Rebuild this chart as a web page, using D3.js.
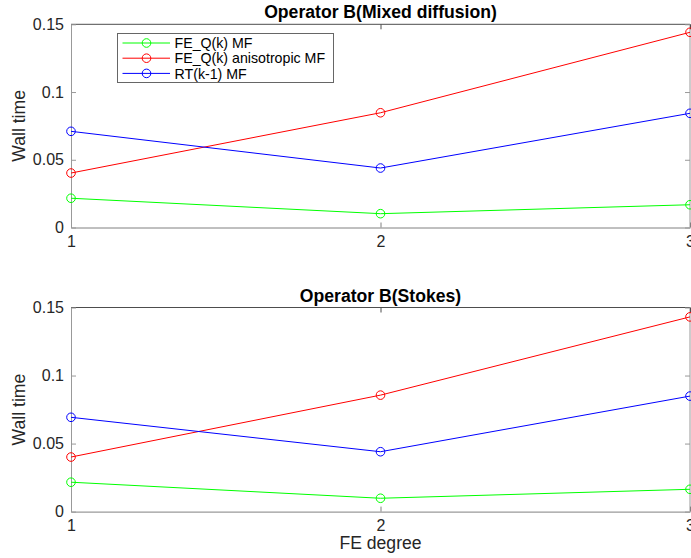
<!DOCTYPE html>
<html>
<head>
<meta charset="utf-8">
<script src="https://cdn.jsdelivr.net/npm/d3@7"></script>
<style>
  html, body { margin: 0; padding: 0; background: #fff; overflow: hidden; }
  text { font-family: "Liberation Sans", Arial, Helvetica, sans-serif; }
</style>
</head>
<body>
<svg id="chart" width="691" height="558"></svg>
<script>
// ---- data ----
const feDegrees = [1, 2, 3];
const yTicks = [0, 0.05, 0.1, 0.15];
const yTickLabels = ["0", "0.05", "0.1", "0.15"];
const seriesNames = ["FE_Q(k) MF", "FE_Q(k) anisotropic MF", "RT(k-1) MF"];
const seriesColors = ["#00ff00", "#ff0000", "#0000ff"];
const mixedFEQ = [0.0216, 0.0102, 0.0168];
const mixedFEQAniso = [0.0402, 0.0847, 0.1441];
const mixedRT = [0.0710, 0.0439, 0.0843];
const stokesFEQ = [0.0216, 0.0098, 0.0164];
const stokesFEQAniso = [0.0401, 0.0856, 0.1431];
const stokesRT = [0.0693, 0.0440, 0.0849];
const panelTitles = ["Operator B(Mixed diffusion)", "Operator B(Stokes)"];

const panels = [
  { title: panelTitles[0], series: [mixedFEQ, mixedFEQAniso, mixedRT], top: 24.3, bottom: 227.5, legend: true, xlabel: false },
  { title: panelTitles[1], series: [stokesFEQ, stokesFEQAniso, stokesRT], top: 307.5, bottom: 511.6, legend: false, xlabel: true }
];

const svg = d3.select("#chart");
const left = 71, right = 690;
const tickLen = 5;
const textColor = "#262626";

panels.forEach(p => {
  const x = d3.scaleLinear().domain([1, 3]).range([left, right]);
  const y = d3.scaleLinear().domain([0, 0.15]).range([p.bottom, p.top]);
  const g = svg.append("g");

  // box
  g.append("line").attr("x1", left).attr("x2", right).attr("y1", p.top).attr("y2", p.top)
    .attr("stroke", "#4d4d4d").attr("stroke-width", 1);
  g.append("line").attr("x1", right).attr("x2", right).attr("y1", p.top).attr("y2", p.bottom)
    .attr("stroke", "#999").attr("stroke-width", 1);

  // bottom axis (ticks inward)
  const xAxis = d3.axisBottom(x).tickValues(feDegrees).tickFormat(d3.format("d"))
    .tickSizeInner(-tickLen).tickSizeOuter(0).tickPadding(8);
  const gx = g.append("g").attr("transform", `translate(0,${p.bottom})`).call(xAxis);
  gx.select(".domain").attr("stroke", "#808080");
  gx.selectAll(".tick line").attr("stroke", "#808080");
  gx.selectAll(".tick text").attr("fill", textColor).style("font-size", "16px")
    .attr("font-family", "Liberation Sans, Arial, sans-serif");

  // top ticks
  const xTop = d3.axisTop(x).tickValues(feDegrees).tickFormat("").tickSizeInner(-tickLen).tickSizeOuter(0);
  const gxt = g.append("g").attr("transform", `translate(0,${p.top})`).call(xTop);
  gxt.select(".domain").remove();
  gxt.selectAll(".tick line").attr("stroke", "#4d4d4d");

  // left axis
  const yAxis = d3.axisLeft(y).tickValues(yTicks).tickFormat((d, i) => yTickLabels[i])
    .tickSizeInner(-tickLen).tickSizeOuter(0).tickPadding(7);
  const gy = g.append("g").attr("transform", `translate(${left},0)`).call(yAxis);
  gy.select(".domain").attr("stroke", "#999");
  gy.selectAll(".tick line").attr("stroke", "#999");
  gy.selectAll(".tick text").attr("fill", textColor).style("font-size", "16px")
    .attr("font-family", "Liberation Sans, Arial, sans-serif");

  // right ticks
  const yRight = d3.axisRight(y).tickValues(yTicks).tickFormat("").tickSizeInner(-tickLen).tickSizeOuter(0);
  const gyr = g.append("g").attr("transform", `translate(${right},0)`).call(yRight);
  gyr.select(".domain").remove();
  gyr.selectAll(".tick line").attr("stroke", "#999");

  // title
  g.append("text").attr("x", (left + right) / 2).attr("y", p.top - 6)
    .attr("text-anchor", "middle").attr("font-weight", "bold").attr("fill", "#000")
    .style("font-size", "17.6px").text(p.title);

  // y label
  g.append("text").attr("transform", `translate(25,${(p.top + p.bottom) / 2}) rotate(-90)`)
    .attr("text-anchor", "middle").attr("fill", textColor).style("font-size", "17.6px").text("Wall time");

  if (p.xlabel) {
    g.append("text").attr("x", (left + right) / 2).attr("y", p.bottom + 37)
      .attr("text-anchor", "middle").attr("fill", textColor).style("font-size", "17.6px").text("FE degree");
  }

  // series
  const line = d3.line().x((d, i) => x(feDegrees[i])).y(d => y(d));
  p.series.forEach((vals, si) => {
    g.append("path").datum(vals).attr("d", line).attr("fill", "none")
      .attr("stroke", seriesColors[si]).attr("stroke-width", 1);
    g.selectAll(null).data(vals).enter().append("circle")
      .attr("cx", (d, i) => x(feDegrees[i])).attr("cy", d => y(d)).attr("r", 4.3)
      .attr("fill", "none").attr("stroke", seriesColors[si]).attr("stroke-width", 1);
  });

  if (p.legend) {
    const lg = g.append("g");
    lg.append("rect").attr("x", 117.5).attr("y", 33.5).attr("width", 216).attr("height", 49)
      .attr("fill", "#fff").attr("stroke", "#666").attr("stroke-width", 1);
    seriesNames.forEach((name, i) => {
      const yy = 43 + i * 15.2;
      lg.append("line").attr("x1", 122.5).attr("x2", 170).attr("y1", yy).attr("y2", yy)
        .attr("stroke", seriesColors[i]).attr("stroke-width", 1);
      lg.append("circle").attr("cx", 146.5).attr("cy", yy).attr("r", 4.3)
        .attr("fill", "none").attr("stroke", seriesColors[i]).attr("stroke-width", 1);
      lg.append("text").attr("x", 174.5).attr("y", yy).attr("dy", "0.36em")
        .attr("fill", "#000").style("font-size", "14.2px").text(name);
    });
  }
});
</script>
</body>
</html>
